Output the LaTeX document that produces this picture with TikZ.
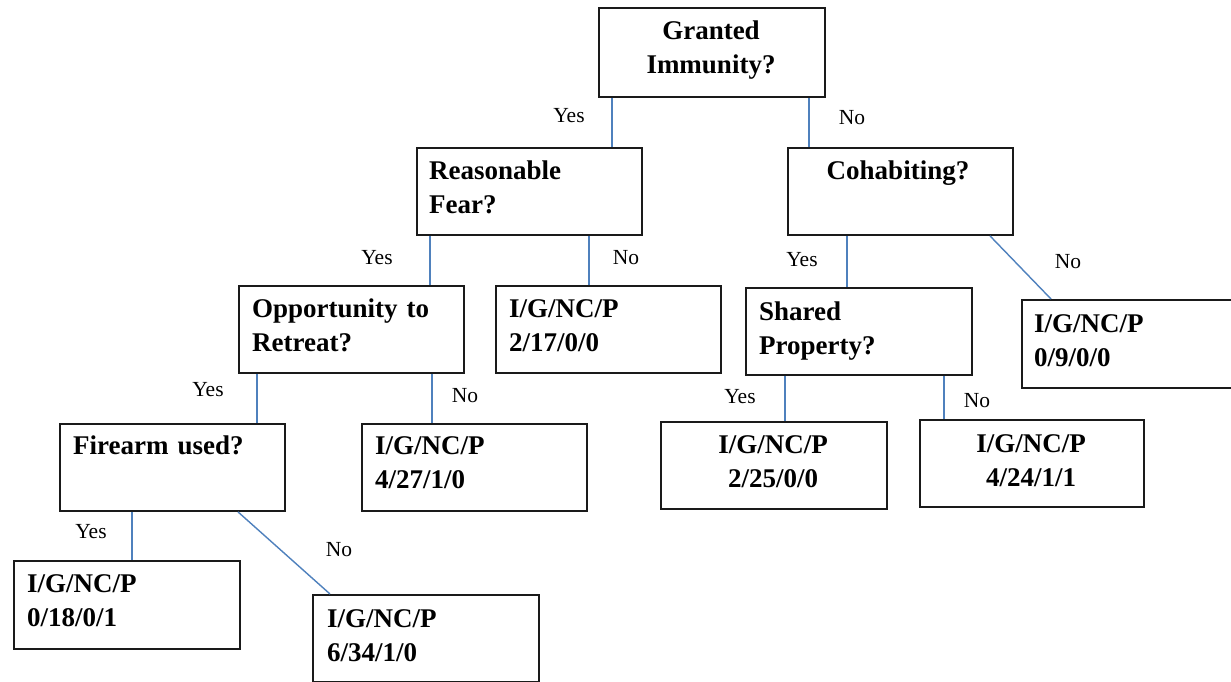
\documentclass[tikz,border=0pt]{standalone}
\usepackage{fontspec}
\setmainfont{Liberation Serif}
\definecolor{linkblue}{HTML}{4F81BD}
\definecolor{boxline}{HTML}{1A1A1A}
\begin{document}
\begin{tikzpicture}[x=1pt,y=-1pt,
  box/.style={draw=boxline, line width=1.9pt, inner sep=0pt, anchor=north west},
  txt/.style={inner sep=0pt, text width=215pt, align=left, anchor=base west,
    font=\fontsize{27pt}{34pt}\selectfont\bfseries},
  ctxt/.style={txt, align=center, anchor=base},
  lbl/.style={inner sep=0pt, font=\fontsize{21.5pt}{24pt}\selectfont},
  link/.style={draw=linkblue, line width=1.4pt}]
\useasboundingbox (0,0) rectangle (1231,682);
\fill[white] (0,0) rectangle (1231,682);
% boxes
\node[box, minimum width=226pt, minimum height=89pt] (gi) at (598,7) {};
\node[box, minimum width=225pt, minimum height=87pt] (rf) at (416,147) {};
\node[box, minimum width=225pt, minimum height=87pt] (co) at (787,147) {};
\node[box, minimum width=225pt, minimum height=87pt] (op) at (238,285) {};
\node[box, minimum width=225pt, minimum height=87pt] (r217) at (495,285) {};
\node[box, minimum width=226pt, minimum height=87pt] (sp) at (745,287) {};
\node[box, minimum width=225pt, minimum height=88pt] (r090) at (1021,299) {};
\node[box, minimum width=225pt, minimum height=87pt] (fa) at (59,423) {};
\node[box, minimum width=225pt, minimum height=87pt] (r427) at (361,423) {};
\node[box, minimum width=226pt, minimum height=87pt] (r225) at (660,421) {};
\node[box, minimum width=224pt, minimum height=87pt] (r424) at (919,419) {};
\node[box, minimum width=226pt, minimum height=88pt] (r018) at (13,560) {};
\node[box, minimum width=226pt, minimum height=87pt] (r634) at (312,594) {};
% texts
\node[ctxt] (t-gi) at (711,40) {Granted\\Immunity?};
\node[txt] (t-rf) at (429,179) {Reasonable\\Fear?};
\node[ctxt] (t-co) at (898,179) {Cohabiting?};
\node[txt] (t-op) at (252,317) {Opportunity to\\Retreat?};
\node[txt] (t-r217) at (509,317) {I/G/NC/P\\2/17/0/0};
\node[txt] (t-sp) at (759,320) {Shared\\Property?};
\node[txt] (t-r090) at (1034,332) {I/G/NC/P\\0/9/0/0};
\node[txt] (t-fa) at (73,454) {Firearm used?};
\node[txt] (t-r427) at (375,454) {I/G/NC/P\\4/27/1/0};
\node[ctxt] (t-r225) at (773,453) {I/G/NC/P\\2/25/0/0};
\node[ctxt] (t-r424) at (1031,452) {I/G/NC/P\\4/24/1/1};
\node[txt] (t-r018) at (27,592) {I/G/NC/P\\0/18/0/1};
\node[txt] (t-r634) at (327,627) {I/G/NC/P\\6/34/1/0};
% connectors
\draw[link] ([xshift=14]gi.south west) -- ([xshift=196]rf.north west);
\draw[link] ([xshift=211]gi.south west) -- ([xshift=22]co.north west);
\draw[link] ([xshift=14]rf.south west) -- ([xshift=192]op.north west);
\draw[link] ([xshift=173]rf.south west) -- ([xshift=94]r217.north west);
\draw[link] ([xshift=60]co.south west) -- ([xshift=102]sp.north west);
\draw[link] ([xshift=203]co.south west) -- ([xshift=30]r090.north west);
\draw[link] ([xshift=19]op.south west) -- ([xshift=198]fa.north west);
\draw[link] ([xshift=194]op.south west) -- ([xshift=71]r427.north west);
\draw[link] ([xshift=40]sp.south west) -- ([xshift=125]r225.north west);
\draw[link] ([xshift=199]sp.south west) -- ([xshift=25]r424.north west);
\draw[link] ([xshift=73]fa.south west) -- ([xshift=119]r018.north west);
\draw[link] ([xshift=179]fa.south west) -- ([xshift=18]r634.north west);
% labels
\node[lbl] (l1) at (569,116) {Yes};
\node[lbl] (l2) at (852,118) {No};
\node[lbl] (l3) at (377,258) {Yes};
\node[lbl] (l4) at (626,258) {No};
\node[lbl] (l5) at (802,260) {Yes};
\node[lbl] (l6) at (1068,262) {No};
\node[lbl] (l7) at (208,390) {Yes};
\node[lbl] (l8) at (465,396) {No};
\node[lbl] (l9) at (740,397) {Yes};
\node[lbl] (l10) at (977,401) {No};
\node[lbl] (l11) at (91,532) {Yes};
\node[lbl] (l12) at (339,550) {No};
\end{tikzpicture}
\end{document}
